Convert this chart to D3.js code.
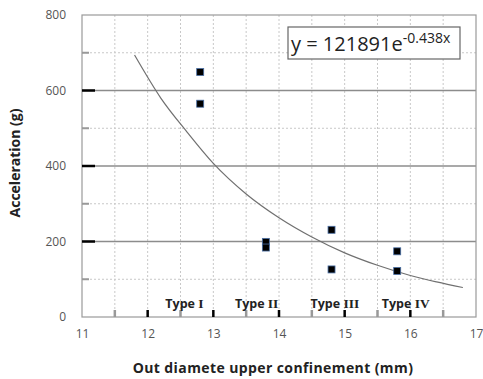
<!DOCTYPE html>
<html>
<head>
<meta charset="utf-8">
<script src="https://cdn.jsdelivr.net/npm/d3@7"></script>
<style>
  body { margin: 0; background: #fff; }
  text { font-family: "Open Sans", "Noto Sans", sans-serif; }
</style>
</head>
<body>
<div id="chart"></div>
<script>
// measured points (outer diameter, acceleration)
const diameters = [12.8, 12.8, 13.8, 13.8, 14.8, 14.8, 15.8, 15.8];
const accels = [649, 565, 199, 184, 231, 126, 174, 122];

// trend line
const trendX = [11.8, 12.2, 12.6, 13, 13.5, 14, 14.5, 15, 15.5, 16, 16.4, 16.8];
const trendY = [694, 580, 490, 407, 326, 263, 212, 170, 137, 110, 93, 78];

const typeNames = ['I', 'II', 'III', 'IV'];
const typeAt = [12.56, 13.66, 14.85, 15.93];

const xTicks = [11, 12, 13, 14, 15, 16, 17];
const yTicks = [0, 200, 400, 600, 800];

const width = 483, height = 379;
const margin = {top: 15, right: 7, bottom: 62, left: 82};

const svg = d3.select('#chart').append('svg')
  .attr('width', width)
  .attr('height', height);

const x = d3.scaleLinear().domain([11, 17]).range([margin.left, width - margin.right]);
const y = d3.scaleLinear().domain([0, 800]).range([height - margin.bottom, margin.top]);

// vertical dashed grid every 0.5
const halfSteps = d3.range(11.5, 17, 0.5);
svg.append('g').selectAll('line')
  .data(halfSteps)
  .enter().append('line')
  .attr('x1', d => x(d)).attr('x2', d => x(d))
  .attr('y1', y(0)).attr('y2', y(800))
  .attr('stroke', '#c8c8c8')
  .attr('stroke-dasharray', '2,2');

// horizontal minor dashed grid
const minorY = [100, 300, 500, 700];
svg.append('g').selectAll('line')
  .data(minorY)
  .enter().append('line')
  .attr('x1', x(11)).attr('x2', x(17))
  .attr('y1', d => y(d)).attr('y2', d => y(d))
  .attr('stroke', '#c8c8c8')
  .attr('stroke-dasharray', '2,2');

// horizontal major lines
svg.append('g').selectAll('line')
  .data([200, 400, 600])
  .enter().append('line')
  .attr('x1', x(11)).attr('x2', x(17))
  .attr('y1', d => y(d)).attr('y2', d => y(d))
  .attr('stroke', '#8c8c8c')
  .attr('stroke-width', 1.5);

// plot border
svg.append('rect')
  .attr('x', x(11)).attr('y', y(800))
  .attr('width', x(17) - x(11)).attr('height', y(0) - y(800))
  .attr('fill', 'none')
  .attr('stroke', '#9a9a9a')
  .attr('stroke-width', 1.2);

// inside ticks on y axis
svg.append('g').selectAll('line')
  .data(minorY)
  .enter().append('line')
  .attr('x1', x(11)).attr('x2', x(11) + 7)
  .attr('y1', d => y(d)).attr('y2', d => y(d))
  .attr('stroke', '#999').attr('stroke-width', 2);
svg.append('g').selectAll('line')
  .data([200, 400, 600])
  .enter().append('line')
  .attr('x1', x(11)).attr('x2', x(11) + 13)
  .attr('y1', d => y(d)).attr('y2', d => y(d))
  .attr('stroke', '#000').attr('stroke-width', 2.5);

// inside ticks on x axis
svg.append('g').selectAll('line')
  .data(halfSteps)
  .enter().append('line')
  .attr('x1', d => x(d)).attr('x2', d => x(d))
  .attr('y1', y(0)).attr('y2', y(0) - 7)
  .attr('stroke', d => Number.isInteger(d) ? '#000' : '#999')
  .attr('stroke-width', 2.5);

// axes labels through d3 axes
const yAxis = svg.append('g')
  .attr('transform', `translate(${x(11)},0)`)
  .call(d3.axisLeft(y).tickValues(yTicks).tickSize(0).tickPadding(16).tickFormat(d3.format('d')));
yAxis.select('.domain').remove();
yAxis.selectAll('text')
  .attr('fill', '#555')
  .style('font-size', '12px')
  .style('font-family', '"Open Sans", sans-serif');

const xAxis = svg.append('g')
  .attr('transform', `translate(0,${y(0)})`)
  .call(d3.axisBottom(x).tickValues(xTicks).tickSize(0).tickPadding(12).tickFormat(d3.format('d')));
xAxis.select('.domain').remove();
xAxis.selectAll('text')
  .attr('fill', '#555')
  .style('font-size', '12px')
  .style('font-family', '"Open Sans", sans-serif');

// trend line
const trend = trendX.map((d, i) => [d, trendY[i]]);
svg.append('path')
  .datum(trend)
  .attr('fill', 'none')
  .attr('stroke', '#707070')
  .attr('stroke-width', 1.2)
  .attr('d', d3.line().x(d => x(d[0])).y(d => y(d[1])).curve(d3.curveMonotoneX));

// data markers
svg.append('g').selectAll('rect')
  .data(diameters.map((d, i) => [d, accels[i]]))
  .enter().append('rect')
  .attr('x', d => x(d[0]) - 3.5)
  .attr('y', d => y(d[1]) - 3.5)
  .attr('width', 7).attr('height', 7)
  .attr('fill', '#000')
  .attr('stroke', '#4a6fa5')
  .attr('stroke-width', 0.8);

// type labels
const typeText = svg.append('g').selectAll('text')
  .data(typeNames)
  .enter().append('text')
  .attr('x', (d, i) => x(typeAt[i]))
  .attr('y', y(0) - 9)
  .attr('text-anchor', 'middle')
  .style('font-size', '12.5px')
  .style('font-weight', 'bold')
  .attr('fill', '#222');
typeText.append('tspan')
  .style('font-family', '"Open Sans", sans-serif')
  .text('Type ');
typeText.append('tspan')
  .style('font-family', '"Liberation Serif", serif')
  .style('font-size', '13.5px')
  .text(d => d);

// equation box
svg.append('rect')
  .attr('x', 288).attr('y', 27)
  .attr('width', 172).attr('height', 32)
  .attr('fill', '#fff')
  .attr('stroke', '#666')
  .attr('stroke-width', 1.2);
const eq = svg.append('text')
  .attr('x', 291).attr('y', 51)
  .style('font-size', '20px')
  .style('font-family', '"Open Sans", sans-serif')
  .attr('fill', '#222');
eq.append('tspan').text('y = 121891e');
eq.append('tspan').attr('dy', -8).style('font-size', '14px').text('-0.438x');

// axis titles
svg.append('text')
  .attr('x', 273).attr('y', 373)
  .attr('text-anchor', 'middle')
  .style('font-size', '14px')
  .style('font-weight', 'bold')
  .style('letter-spacing', '0.4px')
  .attr('fill', '#222')
  .text('Out diamete upper confinement  (mm)');

svg.append('text')
  .attr('transform', 'translate(20,163) rotate(-90)')
  .attr('text-anchor', 'middle')
  .style('font-size', '14px')
  .style('font-weight', 'bold')
  .attr('fill', '#222')
  .text('Acceleration (g)');
</script>
</body>
</html>
